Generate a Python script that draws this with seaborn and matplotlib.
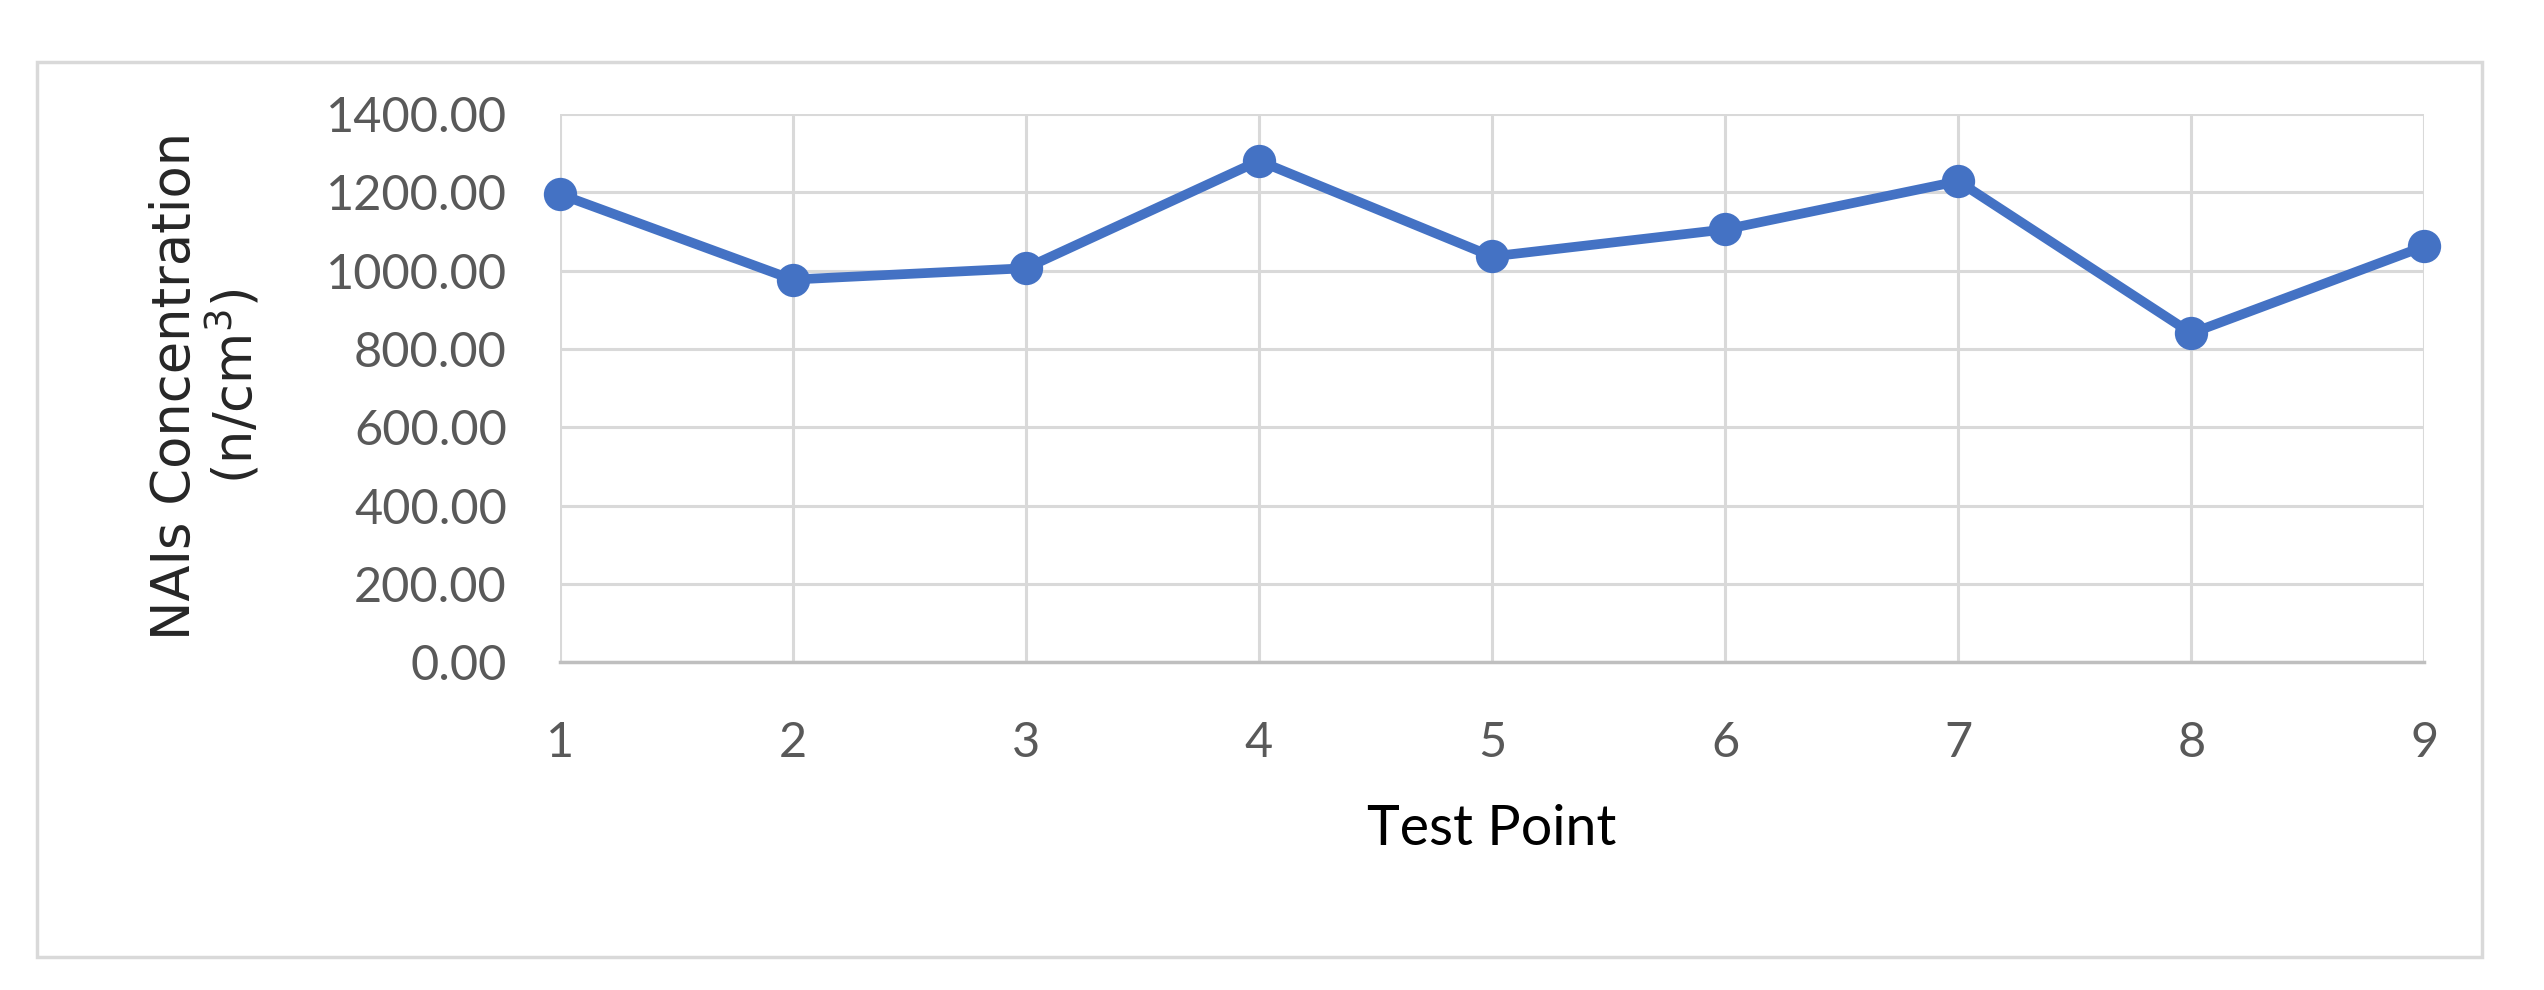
import seaborn as sns
import matplotlib.pyplot as plt
from matplotlib.patches import Rectangle
import pandas as pd

# values
test_points = [1, 2, 3, 4, 5, 6, 7, 8, 9]
nais = [1195, 977, 1006, 1280, 1036, 1105, 1228, 840, 1062]
y_ticks = [0, 200, 400, 600, 800, 1000, 1200, 1400]

df = pd.DataFrame({'point': test_points, 'nais': nais})

sns.set_style('white')
plt.rcParams['font.family'] = ['Lato', 'DejaVu Sans']

fig = plt.figure(figsize=(25.44, 9.9), dpi=100)
ax = fig.add_axes([0.220, 0.331, 0.733, 0.554])

sns.lineplot(data=df, x='point', y='nais', ax=ax, color='#4472C4',
             linewidth=7, marker='o', markersize=24, markeredgewidth=0,
             zorder=3, clip_on=False)

ax.set_xlim(1, 9)
ax.set_ylim(0, 1400)
ax.set_xticks(test_points)
ax.set_yticks(y_ticks)
ax.set_yticklabels([f'{v:.2f}' for v in y_ticks])
ax.grid(True, color='#D9D9D9', linewidth=2.2)
for side in ['left', 'right', 'top']:
    ax.spines[side].set_visible(False)
ax.spines['bottom'].set_color('#BFBFBF')
ax.spines['bottom'].set_linewidth(2.5)
ax.tick_params(axis='both', length=0, labelsize=35, labelcolor='#595959')
ax.tick_params(axis='x', pad=42)
ax.tick_params(axis='y', pad=38)

ax.set_xlabel('Test Point', fontsize=40, color='black', labelpad=28)
ax.set_ylabel('')
fig.text(0.081, 0.61, 'NAIs Concentration\n(n/cm$^3$)', rotation=90,
         ha='center', va='center', multialignment='center',
         fontsize=38, family='DejaVu Sans', linespacing=1.1)

fig.patches.append(Rectangle((0.0145, 0.033), 0.961, 0.904,
                             transform=fig.transFigure, fill=False,
                             edgecolor='#D9D9D9', linewidth=2.5))

fig.savefig('out.png', dpi=100, facecolor='white')
